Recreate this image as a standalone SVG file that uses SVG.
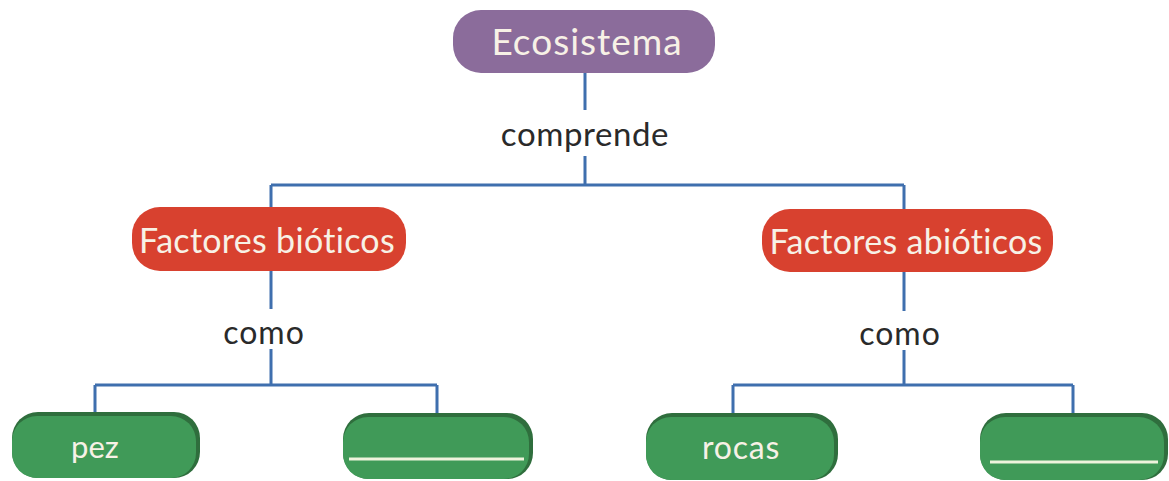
<svg xmlns="http://www.w3.org/2000/svg" width="1169" height="481" viewBox="0 0 1169 481">
<style>
.conn{fill:none;stroke:#3f6fae;stroke-width:3}
.lbl{font-family:Lato,"Noto Sans",sans-serif;fill:#2a2a2a;text-anchor:middle}
.ntxt{font-family:Lato,"Noto Sans",sans-serif;fill:#f7f1e6;text-anchor:middle}
.purple{fill:#8b6c9b}
.red{fill:#d8412f}
.gdark{fill:#2f6e3d}
.green{fill:#409a58}
.uline{stroke:#eef3dc;stroke-width:3}
</style>
<rect width="1169" height="481" fill="#ffffff"/>
<g id="connectors">
<path class="conn" d="M585,73 V110 M585,156 V185 M271,185 H904 M271,185 V208 M904,185 V209"/>
<path class="conn" d="M271,271 V309 M271,349 V385 M95,385 H437 M95,385 V413 M437,385 V413"/>
<path class="conn" d="M904,272 V311 M904,350 V385 M733,385 H1073 M733,385 V413 M1073,385 V413"/>
</g>
<g id="label-comprende"><text class="lbl" x="585" y="146" font-size="33" letter-spacing="0.6">comprende</text></g>
<g id="label-como-1"><text class="lbl" x="264" y="344" font-size="32" letter-spacing="1">como</text></g>
<g id="label-como-2"><text class="lbl" x="900" y="345" font-size="32" letter-spacing="1">como</text></g>
<g id="node-ecosistema">
<rect class="purple" x="453" y="10" width="262" height="63" rx="28"/>
<text class="ntxt" x="587" y="55" font-size="37" letter-spacing="1">Ecosistema</text>
</g>
<g id="node-bioticos">
<rect class="red" x="132" y="207" width="274" height="64" rx="28"/>
<text class="ntxt" x="267" y="253" font-size="34" letter-spacing="0.3">Factores bióticos</text>
</g>
<g id="node-abioticos">
<rect class="red" x="762" y="209" width="291" height="63" rx="28"/>
<text class="ntxt" x="906" y="254" font-size="34" letter-spacing="0.3">Factores abióticos</text>
</g>
<g id="node-pez">
<rect class="gdark" x="12" y="412" width="188" height="66" rx="26"/>
<rect class="green" x="12" y="416" width="184" height="62" rx="25"/>
<text class="ntxt" x="95" y="458" font-size="31">pez</text>
</g>
<g id="node-blank-1">
<rect class="gdark" x="343" y="413" width="190" height="66" rx="26"/>
<rect class="green" x="343" y="417" width="186" height="62" rx="25"/>
<line class="uline" x1="349" y1="459" x2="524" y2="459"/>
</g>
<g id="node-rocas">
<rect class="gdark" x="646" y="413" width="192" height="67" rx="26"/>
<rect class="green" x="646" y="417" width="188" height="63" rx="25"/>
<text class="ntxt" x="741" y="459" font-size="32" letter-spacing="0.8">rocas</text>
</g>
<g id="node-blank-2">
<rect class="gdark" x="980" y="413" width="188" height="67" rx="26"/>
<rect class="green" x="980" y="417" width="184" height="63" rx="25"/>
<line class="uline" x1="990" y1="462" x2="1158" y2="462"/>
</g>
</svg>
